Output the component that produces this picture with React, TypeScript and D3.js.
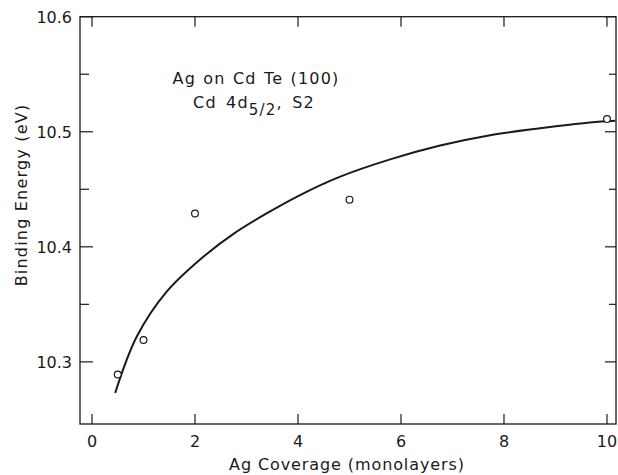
import { useEffect, useRef } from 'react';
import * as d3 from 'd3';

const width = 618;
const height = 475;

// measured points (Ag coverage in monolayers, binding energy in eV)
const coverage = [0.5, 1, 2, 5, 10];
const energy = [10.289, 10.319, 10.429, 10.441, 10.511];

// fitted curve
const curveX = [0.45, 0.87, 1.45, 2.1, 2.74, 3.39, 4.04, 4.82, 5.79, 6.76, 7.73, 8.7, 9.67, 10.16];
const curveY = [10.273, 10.322, 10.361, 10.389, 10.411, 10.429, 10.445, 10.461, 10.476, 10.488, 10.497, 10.503, 10.508, 10.5095];

const xTicks = [0, 2, 4, 6, 8, 10];
const yTicks = [10.3, 10.4, 10.5, 10.6];
const yMinor = [10.35, 10.45, 10.55];

const font = '"DejaVu Sans", sans-serif';
const ink = '#1a1a1a';

const App = () => {
  const ref = useRef<SVGSVGElement>(null);

  useEffect(() => {
    const svg = d3.select(ref.current);
    svg.selectAll('*').remove();

    const x = d3.scaleLinear().domain([-0.233, 10.175]).range([80, 616]);
    const y = d3.scaleLinear().domain([10.246, 10.6]).range([424, 16.7]);

    const [x0, x1] = x.range();
    const [y0, y1] = y.range();

    // frame
    svg.append('rect')
      .attr('x', x0).attr('y', y1)
      .attr('width', x1 - x0).attr('height', y0 - y1)
      .attr('fill', 'none').attr('stroke', ink).attr('stroke-width', 1.3);

    const g = svg.append('g').attr('stroke', ink).attr('stroke-width', 1.2);

    // x ticks, bottom and top, pointing inward
    xTicks.forEach(t => {
      g.append('line').attr('x1', x(t)).attr('x2', x(t)).attr('y1', y0).attr('y2', y0 - 10);
      g.append('line').attr('x1', x(t)).attr('x2', x(t)).attr('y1', y1).attr('y2', y1 + 10);
    });

    // y ticks, left and right
    yTicks.forEach(t => {
      g.append('line').attr('x1', x0).attr('x2', x0 + 13).attr('y1', y(t)).attr('y2', y(t));
      g.append('line').attr('x1', x1).attr('x2', x1 - 11).attr('y1', y(t)).attr('y2', y(t));
    });
    yMinor.forEach(t => {
      g.append('line').attr('x1', x0).attr('x2', x0 + 9).attr('y1', y(t)).attr('y2', y(t));
      g.append('line').attr('x1', x1).attr('x2', x1 - 7).attr('y1', y(t)).attr('y2', y(t));
    });

    // tick labels
    svg.append('g').selectAll('text').data(xTicks).join('text')
      .attr('x', d => x(d)).attr('y', 447)
      .attr('text-anchor', 'middle')
      .attr('font-family', font).attr('font-size', 16).attr('fill', ink)
      .text(d => d);

    svg.append('g').selectAll('text').data(yTicks).join('text')
      .attr('x', 72).attr('y', d => y(d) + 6)
      .attr('text-anchor', 'end')
      .attr('font-family', font).attr('font-size', 16).attr('fill', ink)
      .text(d => d.toFixed(1));

    // axis titles
    svg.append('text')
      .attr('x', 347).attr('y', 470)
      .attr('text-anchor', 'middle')
      .attr('font-family', font).attr('font-size', 16).attr('letter-spacing', 0.9).attr('fill', ink)
      .text('Ag  Coverage (monolayers)');

    svg.append('text')
      .attr('transform', 'translate(27,195) rotate(-90)')
      .attr('text-anchor', 'middle')
      .attr('font-family', font).attr('font-size', 16).attr('letter-spacing', 1.2).attr('fill', ink)
      .text('Binding  Energy (eV)');

    // annotation
    svg.append('text')
      .attr('x', 256).attr('y', 84)
      .attr('text-anchor', 'middle')
      .attr('font-family', font).attr('font-size', 16).attr('letter-spacing', 1.2)
      .attr('word-spacing', 1).attr('fill', ink)
      .text('Ag on  Cd Te (100)');

    const t2 = svg.append('text')
      .attr('x', 254).attr('y', 108)
      .attr('text-anchor', 'middle')
      .attr('font-family', font).attr('font-size', 16).attr('letter-spacing', 1.2)
      .attr('word-spacing', 3).attr('fill', ink);
    t2.append('tspan').text('Cd  4d');
    t2.append('tspan').attr('dy', 7).attr('font-size', 15).text('5/2');
    t2.append('tspan').attr('dy', -7).text(', S2');

    // fitted curve
    const pts = curveX.map((cx, i) => [cx, curveY[i]] as [number, number]);
    const line = d3.line<[number, number]>()
      .x(d => x(d[0]))
      .y(d => y(d[1]))
      .curve(d3.curveCatmullRom.alpha(0.5));
    svg.append('path')
      .attr('d', line(pts))
      .attr('fill', 'none').attr('stroke', ink).attr('stroke-width', 2);

    // data points
    svg.append('g').selectAll('circle').data(coverage).join('circle')
      .attr('cx', d => x(d)).attr('cy', (d, i) => y(energy[i]))
      .attr('r', 3.4)
      .attr('fill', 'white').attr('stroke', ink).attr('stroke-width', 1.2);
  }, []);

  return (
    <svg ref={ref} width={width} height={height}
      style={{ position: 'absolute', left: 0, top: 0, background: 'white' }} />
  );
};

export default App;
